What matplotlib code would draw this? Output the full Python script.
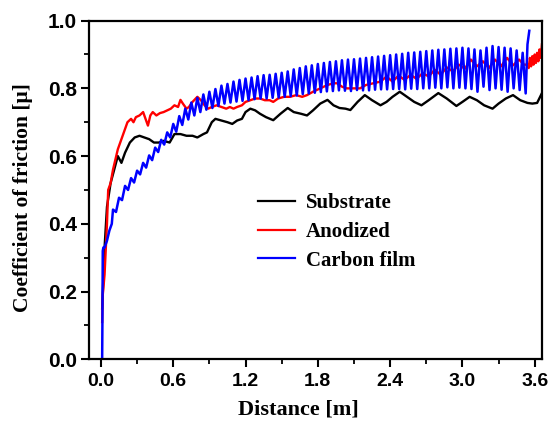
import numpy as np
import matplotlib.pyplot as plt
from matplotlib.ticker import MultipleLocator

# Substrate (black)
substrate_x = [0.01, 0.03, 0.05, 0.08, 0.11, 0.14, 0.17, 0.20, 0.24, 0.28, 0.32, 0.36, 0.40, 0.44,
               0.48, 0.52, 0.57, 0.61, 0.66, 0.71, 0.76, 0.80, 0.85, 0.88, 0.92, 0.95, 1.00, 1.05,
               1.09, 1.13, 1.17, 1.20, 1.24, 1.28, 1.32, 1.37, 1.43, 1.49, 1.55, 1.60, 1.66, 1.71,
               1.76, 1.82, 1.88, 1.93, 1.98, 2.03, 2.07, 2.13, 2.19, 2.25, 2.32, 2.37, 2.42, 2.48,
               2.54, 2.60, 2.66, 2.72, 2.80, 2.87, 2.95, 3.00, 3.06, 3.12, 3.18, 3.25, 3.30, 3.36,
               3.42, 3.48, 3.54, 3.58, 3.62, 3.66]
substrate_y = [0.15, 0.33, 0.45, 0.52, 0.56, 0.60, 0.58, 0.61, 0.64, 0.655, 0.66, 0.655, 0.65, 0.64,
               0.64, 0.645, 0.64, 0.665, 0.665, 0.66, 0.66, 0.655, 0.665, 0.67, 0.70, 0.71, 0.705, 0.70,
               0.695, 0.705, 0.71, 0.73, 0.74, 0.735, 0.725, 0.715, 0.706, 0.725, 0.742, 0.73, 0.725, 0.72,
               0.735, 0.755, 0.766, 0.75, 0.742, 0.74, 0.736, 0.76, 0.78, 0.765, 0.75, 0.76, 0.775, 0.79,
               0.775, 0.76, 0.75, 0.765, 0.786, 0.77, 0.748, 0.76, 0.775, 0.765, 0.75, 0.74, 0.755, 0.77,
               0.78, 0.765, 0.757, 0.755, 0.757, 0.786]

# Anodized (red)
anodized_x = [0.01, 0.015, 0.03, 0.05, 0.06, 0.08, 0.10, 0.12, 0.14, 0.16, 0.18, 0.20, 0.22, 0.25,
              0.27, 0.29, 0.32, 0.35, 0.37, 0.39, 0.41, 0.43, 0.46, 0.49, 0.52, 0.55, 0.58, 0.61,
              0.64, 0.66, 0.68, 0.71, 0.73, 0.76, 0.80, 0.83, 0.86, 0.89, 0.92, 0.96, 1.00, 1.04,
              1.07, 1.10, 1.13, 1.17, 1.20, 1.24, 1.28, 1.32, 1.36, 1.40, 1.43, 1.47, 1.52, 1.57,
              1.62, 1.67, 1.71, 1.76, 1.82, 1.88, 1.93, 1.96, 2.00, 2.04, 2.07, 2.11, 2.15, 2.20,
              2.26, 2.32, 2.37, 2.42, 2.47, 2.52, 2.57, 2.62, 2.67, 2.72, 2.77, 2.82, 2.87, 2.92,
              2.97, 3.02, 3.07, 3.12, 3.17, 3.22, 3.27, 3.32, 3.37, 3.42, 3.47, 3.51, 3.54, 3.55,
              3.56, 3.57, 3.58, 3.59, 3.60, 3.61, 3.62, 3.63, 3.64, 3.65, 3.66]
anodized_y = [0.11, 0.19, 0.25, 0.40, 0.50, 0.52, 0.56, 0.59, 0.62, 0.64, 0.66, 0.68, 0.70, 0.71,
              0.70, 0.715, 0.72, 0.73, 0.71, 0.69, 0.72, 0.73, 0.72, 0.727, 0.73, 0.735, 0.74, 0.75,
              0.745, 0.766, 0.755, 0.74, 0.745, 0.76, 0.775, 0.765, 0.75, 0.74, 0.745, 0.75, 0.745, 0.74,
              0.745, 0.74, 0.745, 0.75, 0.76, 0.765, 0.77, 0.77, 0.765, 0.765, 0.76, 0.77, 0.775, 0.775,
              0.78, 0.775, 0.78, 0.79, 0.80, 0.81, 0.815, 0.815, 0.805, 0.80, 0.80, 0.80, 0.80, 0.81,
              0.815, 0.82, 0.835, 0.82, 0.838, 0.825, 0.84, 0.828, 0.845, 0.835, 0.855, 0.84, 0.862, 0.85,
              0.87, 0.858, 0.885, 0.865, 0.88, 0.86, 0.885, 0.865, 0.89, 0.868, 0.885, 0.87, 0.87, 0.86,
              0.89, 0.865, 0.895, 0.87, 0.90, 0.875, 0.905, 0.88, 0.915, 0.89, 0.93]

# Carbon film (blue): start-up points, the oscillating run (peak/trough pairs), the final spike
carbon_start_x = [0.01, 0.012, 0.015, 0.02, 0.03, 0.05, 0.07, 0.09]
carbon_start_y = [0.0, 0.10, 0.32, 0.33, 0.33, 0.35, 0.38, 0.40]
carbon_osc_y = [0.442, 0.435, 0.477, 0.47, 0.512, 0.50, 0.535, 0.522, 0.557, 0.546,
                0.58, 0.566, 0.602, 0.588, 0.625, 0.612, 0.648, 0.634, 0.67, 0.655,
                0.695, 0.672, 0.718, 0.692, 0.74, 0.708, 0.758, 0.72, 0.772, 0.73,
                0.782, 0.737, 0.79, 0.742, 0.798, 0.748, 0.808, 0.755, 0.813, 0.758,
                0.82, 0.761, 0.825, 0.763, 0.829, 0.765, 0.832, 0.768, 0.836, 0.77,
                0.839, 0.77, 0.84, 0.772, 0.843, 0.773, 0.846, 0.775, 0.85, 0.777,
                0.856, 0.779, 0.86, 0.783, 0.865, 0.785, 0.868, 0.787, 0.872, 0.789,
                0.875, 0.791, 0.878, 0.792, 0.88, 0.794, 0.883, 0.793, 0.885, 0.792,
                0.886, 0.795, 0.888, 0.794, 0.89, 0.794, 0.892, 0.796, 0.894, 0.797,
                0.896, 0.797, 0.898, 0.798, 0.90, 0.798, 0.902, 0.797, 0.905, 0.799,
                0.906, 0.798, 0.908, 0.80, 0.91, 0.80, 0.912, 0.802, 0.914, 0.80,
                0.915, 0.803, 0.917, 0.80, 0.918, 0.802, 0.92, 0.80, 0.918, 0.798,
                0.915, 0.79, 0.912, 0.805, 0.92, 0.795, 0.925, 0.80, 0.922, 0.796,
                0.92, 0.79, 0.918, 0.80, 0.912, 0.795, 0.905, 0.785]
carbon_end_x = [3.54, 3.555]
carbon_end_y = [0.93, 0.97]

carbon_osc_x = np.linspace(0.10, 3.525, len(carbon_osc_y))
carbon_x = np.concatenate([carbon_start_x, carbon_osc_x, carbon_end_x])
carbon_y = np.concatenate([carbon_start_y, carbon_osc_y, carbon_end_y])

fig = plt.figure(figsize=(5.51, 4.21), dpi=100)
ax = fig.add_axes([0.162, 0.1466, 0.822, 0.8044])

ax.plot(substrate_x, substrate_y, color='black', lw=1.7, label='Substrate')
ax.plot(anodized_x, anodized_y, color='red', lw=1.7, label='Anodized')
ax.plot(carbon_x, carbon_y, color='blue', lw=1.8, label='Carbon film')

ax.set_xlim(-0.097, 3.662)
ax.set_ylim(0, 1.0)
ax.xaxis.set_minor_locator(MultipleLocator(0.3))
ax.yaxis.set_minor_locator(MultipleLocator(0.1))
ax.set_xticks([0.0, 0.6, 1.2, 1.8, 2.4, 3.0, 3.6])
ax.set_xticklabels(['0.0', '0.6', '1.2', '1.8', '2.4', '3.0', '3.6'])
ax.set_yticks([0.0, 0.2, 0.4, 0.6, 0.8, 1.0])
ax.set_yticklabels(['0.0', '0.2', '0.4', '0.6', '0.8', '1.0'])

for s in ax.spines.values():
    s.set_linewidth(1.6)
ax.tick_params(which='major', direction='out', length=6, width=1.5, top=False, right=False)
ax.tick_params(which='minor', direction='out', length=3.5, width=1.3, top=False, right=False)
ax.tick_params(axis='x', pad=4)
ax.tick_params(axis='y', pad=3)
for lab in ax.get_xticklabels():
    lab.set_fontfamily('Liberation Sans')
    lab.set_fontweight('bold')
    lab.set_fontsize(14)
for lab in ax.get_yticklabels():
    lab.set_fontfamily('Liberation Sans')
    lab.set_fontweight('bold')
    lab.set_fontsize(15)

ax.set_xlabel('Distance [m]', fontfamily='Liberation Serif', fontweight='bold', fontsize=16)
ax.set_ylabel('Coefficient of friction [μ]', fontfamily='Liberation Serif', fontweight='bold',
              fontsize=15.5)
ax.xaxis.set_label_coords(0.461, -0.118)
ax.yaxis.set_label_coords(-0.124, 0.478)

leg = ax.legend(loc='center left', bbox_to_anchor=(0.372, 0.376), frameon=False,
                prop={'family': 'Liberation Serif', 'weight': 'bold', 'size': 15},
                handlelength=1.8, handletextpad=0.5, labelspacing=0.42,
                borderpad=0, borderaxespad=0)
for line in leg.get_lines():
    line.set_linewidth(1.6)

fig.savefig('out.png', dpi=100)
